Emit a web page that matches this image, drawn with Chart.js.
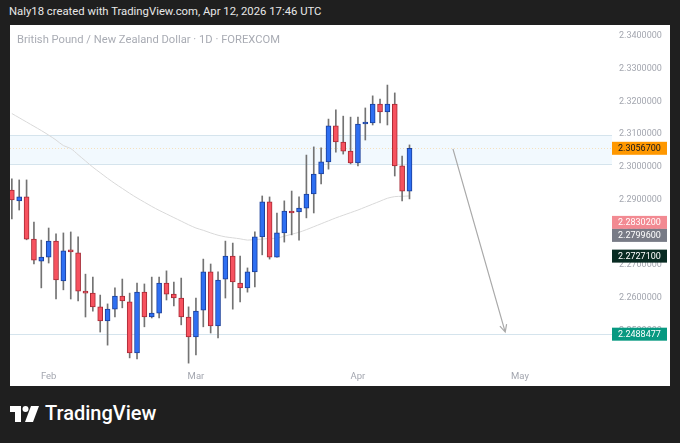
<!DOCTYPE html>
<html>
<head>
<meta charset="utf-8">
<script src="https://cdn.jsdelivr.net/npm/chart.js@4.4.1/dist/chart.umd.min.js"></script>
<style>
  html, body { margin: 0; padding: 0; width: 680px; height: 443px; overflow: hidden; background: #1f1f1f; font-family: Roboto, "Liberation Sans", sans-serif; }
  #header { position: absolute; left: 9px; top: 5px; color: #e8e8e8; font-size: 11.3px; white-space: nowrap; }
  #panel { position: absolute; left: 10px; top: 25px; width: 660px; height: 361px; background: #fff; }
  #chart { position: absolute; left: 0; top: 0; }
  #symbol { position: absolute; left: 7px; top: 8px; color: #a9acb4; font-size: 11.2px; white-space: nowrap; }
  #logo { position: absolute; left: 10px; top: 402px; height: 24px; color: #fff; }
  #logo svg { position: absolute; left: 0; top: 4px; }
  #logo span { position: absolute; left: 35px; top: -1px; font-size: 20px; font-weight: 500; white-space: nowrap; }
</style>
</head>
<body>
<div id="header">Naly18 created with TradingView.com, Apr 12, 2026 17:46 UTC</div>
<div id="panel">
  <canvas id="chart" width="660" height="361"></canvas>
  <div id="symbol">British Pound / New Zealand Dollar · 1D · FOREXCOM</div>
</div>
<div id="logo">
  <svg width="30" height="16" viewBox="0 0 30 16">
    <path d="M0 0 H11 V16 H5 V6 H0 Z" fill="#fff"/>
    <circle cx="15.5" cy="3" r="3" fill="#fff"/>
    <path d="M21 0 H29 L23 16 H15 Z" fill="#fff"/>
  </svg>
  <span>TradingView</span>
</div>
<script>
// GBP/NZD daily candles, Jan 26 - Apr 10
const opens = [2.2929, 2.2896, 2.2908, 2.2779, 2.2712, 2.2724, 2.2773, 2.2651, 2.2746, 2.2737,
  2.2620, 2.2614, 2.2572, 2.2529, 2.2565, 2.2605, 2.2587, 2.2431, 2.2617, 2.2541,
  2.2553, 2.2645, 2.2611, 2.2599, 2.2541, 2.2480, 2.2562, 2.2679, 2.2514, 2.2657,
  2.2727, 2.2645, 2.2630, 2.2679, 2.2786, 2.2893, 2.2724, 2.2798, 2.2865, 2.2862,
  2.2874, 2.2917, 2.2978, 2.3015, 2.3125, 2.3076, 2.3048, 2.3012, 2.3131, 2.3134,
  2.3192, 2.3168, 2.3192, 2.3003, 2.2926];
const highs = [2.2963, 2.2960, 2.2960, 2.2831, 2.2776, 2.2813, 2.2795, 2.2798, 2.2801, 2.2786,
  2.2672, 2.2663, 2.2608, 2.2581, 2.2630, 2.2657, 2.2614, 2.2645, 2.2642, 2.2663,
  2.2663, 2.2682, 2.2648, 2.2660, 2.2572, 2.2599, 2.2718, 2.2703, 2.2679, 2.2773,
  2.2767, 2.2727, 2.2691, 2.2801, 2.2911, 2.2908, 2.2859, 2.2896, 2.2926, 2.2908,
  2.3036, 2.3061, 2.3058, 2.3146, 2.3174, 2.3155, 2.3152, 2.3152, 2.3180, 2.3217,
  2.3207, 2.3250, 2.3226, 2.3033, 2.3067];
const lows = [2.2841, 2.2868, 2.2777, 2.2703, 2.2630, 2.2706, 2.2596, 2.2624, 2.2596, 2.2590,
  2.2541, 2.2559, 2.2495, 2.2455, 2.2541, 2.2569, 2.2416, 2.2413, 2.2511, 2.2538,
  2.2538, 2.2593, 2.2575, 2.2517, 2.2400, 2.2425, 2.2511, 2.2492, 2.2477, 2.2599,
  2.2565, 2.2587, 2.2617, 2.2633, 2.2731, 2.2718, 2.2724, 2.2770, 2.2792, 2.2776,
  2.2844, 2.2859, 2.2948, 2.2993, 2.3045, 2.3039, 2.3009, 2.3003, 2.3082, 2.3128,
  2.3134, 2.3128, 2.2972, 2.2896, 2.2902];
const closes = [2.2899, 2.2908, 2.2779, 2.2715, 2.2724, 2.2773, 2.2654, 2.2743, 2.2740, 2.2620,
  2.2614, 2.2572, 2.2529, 2.2565, 2.2605, 2.2590, 2.2431, 2.2617, 2.2541, 2.2553,
  2.2645, 2.2611, 2.2599, 2.2541, 2.2480, 2.2559, 2.2679, 2.2514, 2.2654, 2.2727,
  2.2648, 2.2630, 2.2679, 2.2786, 2.2893, 2.2724, 2.2798, 2.2865, 2.2859, 2.2874,
  2.2917, 2.2978, 2.3015, 2.3125, 2.3076, 2.3048, 2.3012, 2.3131, 2.3134, 2.3192,
  2.3168, 2.3192, 2.3003, 2.2926, 2.30567];
const movingAvg = [2.3163, 2.3150, 2.3137, 2.3124, 2.3111, 2.3097, 2.3082, 2.3065, 2.3056, 2.3037,
  2.3018, 2.2999, 2.2982, 2.2965, 2.2949, 2.2934, 2.2919, 2.2905, 2.2892, 2.2879,
  2.2867, 2.2856, 2.2845, 2.2834, 2.2823, 2.2813, 2.2806, 2.2798, 2.2791, 2.2786,
  2.2783, 2.2780, 2.2776, 2.2778, 2.2779, 2.2781, 2.2782, 2.2788, 2.2794, 2.2800,
  2.2808, 2.2817, 2.2826, 2.2835, 2.2844, 2.2852, 2.2860, 2.2868, 2.2877, 2.2886,
  2.2895, 2.2904, 2.2909, 2.2910, 2.2911];

// first bar of each month (bar number) and its label
const monthBars = [6, 26, 48, 70];
const monthNames = ['Feb', 'Mar', 'Apr', 'May'];

const priceTicks = [2.25, 2.26, 2.27, 2.28, 2.29, 2.30, 2.31, 2.32, 2.33, 2.34];
const tagValues = [2.30567, 2.28302, 2.27996, 2.27271, 2.2488477];
const tagColors = ['#ff9800', '#f28a92', '#787b86', '#082b22', '#089981'];
const tagText = ['#131722', '#fff', '#fff', '#fff', '#fff'];

const zoneTop = 2.3097, zoneBottom = 2.3009;
const targetLevel = 2.2488477;
const arrowStart = { bar: 60.9, price: 2.3055 };
const arrowEnd = { bar: 68, price: 2.2495 };

const UP = '#2e6ff2', UP_EDGE = '#1b3f9a';
const DOWN = '#f7525f', DOWN_EDGE = '#a82a35';
const isUp = i => closes[i] >= opens[i];

const overlays = {
  id: 'overlays',
  beforeDatasetsDraw(chart) {
    const { ctx, chartArea: a, scales: { y } } = chart;
    ctx.save();
    const t = y.getPixelForValue(zoneTop), b = y.getPixelForValue(zoneBottom);
    ctx.fillStyle = 'rgba(33,150,243,0.06)';
    ctx.fillRect(a.left, t, a.right - a.left, b - t);
    ctx.strokeStyle = '#d5e4ed';
    ctx.lineWidth = 1;
    ctx.beginPath();
    ctx.moveTo(a.left, Math.round(t) + 0.5); ctx.lineTo(a.right, Math.round(t) + 0.5);
    ctx.moveTo(a.left, Math.round(b) + 0.5); ctx.lineTo(a.right, Math.round(b) + 0.5);
    const h = Math.round(y.getPixelForValue(targetLevel)) + 0.5;
    ctx.moveTo(a.left, h); ctx.lineTo(a.right, h);
    ctx.stroke();
    // last price line
    const lp = Math.round(y.getPixelForValue(closes[closes.length - 1])) + 0.5;
    ctx.strokeStyle = 'rgba(255,152,0,0.25)';
    ctx.setLineDash([1, 2]);
    ctx.beginPath();
    ctx.moveTo(a.left, lp); ctx.lineTo(a.right, lp);
    ctx.stroke();
    ctx.restore();
  },
  afterDatasetsDraw(chart) {
    const { ctx, scales: { x, y } } = chart;
    const x1 = x.getPixelForValue(arrowStart.bar), y1 = y.getPixelForValue(arrowStart.price);
    const x2 = x.getPixelForValue(arrowEnd.bar), y2 = y.getPixelForValue(arrowEnd.price);
    const ang = Math.atan2(y2 - y1, x2 - x1);
    ctx.save();
    ctx.strokeStyle = '#a9a9a9';
    ctx.lineWidth = 1.2;
    ctx.beginPath();
    ctx.moveTo(x1, y1); ctx.lineTo(x2, y2);
    ctx.moveTo(x2 - 8 * Math.cos(ang - 0.45), y2 - 8 * Math.sin(ang - 0.45));
    ctx.lineTo(x2, y2);
    ctx.lineTo(x2 - 8 * Math.cos(ang + 0.45), y2 - 8 * Math.sin(ang + 0.45));
    ctx.stroke();
    ctx.restore();
  },
  afterDraw(chart) {
    const { ctx, chartArea: a, scales: { y } } = chart;
    const hgt = 13;
    const tags = tagValues.map((v, i) => ({ v, i, py: y.getPixelForValue(v) }))
      .sort((p, q) => p.py - q.py);
    let prevBottom = -Infinity;
    ctx.save();
    ctx.font = '9px Roboto';
    ctx.textBaseline = 'middle';
    tags.forEach(tag => {
      let top = tag.py - hgt / 2;
      if (top < prevBottom) top = prevBottom;
      prevBottom = top + hgt;
      ctx.fillStyle = tagColors[tag.i];
      ctx.fillRect(a.right, top, 55, hgt);
      ctx.fillStyle = tagText[tag.i];
      ctx.fillText(tag.v.toFixed(7), a.right + 6, top + hgt / 2 + 0.5);
    });
    ctx.restore();
  }
};

const noPad = s => { s.paddingTop = 0; s.paddingBottom = 0; s.paddingLeft = 0; s.paddingRight = 0; };

new Chart(document.getElementById('chart'), {
  type: 'bar',
  data: {
    datasets: [
      {
        label: 'body',
        data: closes.map((c, i) => ({ x: i + 1, y: [opens[i], c] })),
        backgroundColor: ctx => isUp(ctx.dataIndex) ? UP : DOWN,
        borderColor: ctx => isUp(ctx.dataIndex) ? UP_EDGE : DOWN_EDGE,
        borderWidth: 1,
        borderSkipped: false,
        barThickness: 5,
        minBarLength: 2,
        grouped: false
      },
      {
        label: 'wick',
        data: highs.map((hv, i) => ({ x: i + 1, y: [lows[i], hv] })),
        backgroundColor: '#737373',
        barThickness: 1,
        grouped: false
      },
      {
        type: 'line',
        label: 'MA',
        data: movingAvg.map((m, i) => ({ x: i + 1, y: m })),
        borderColor: '#d9d9d9',
        borderWidth: 1,
        pointRadius: 0,
        tension: 0.3
      }
    ]
  },
  options: {
    responsive: false,
    animation: false,
    layout: { padding: 0 },
    plugins: { legend: { display: false }, tooltip: { enabled: false } },
    scales: {
      x: {
        type: 'linear',
        min: 0.75,
        max: 82.5,
        offset: false,
        afterFit: s => { s.height = 18; noPad(s); },
        afterBuildTicks: s => { s.ticks = monthBars.map(v => ({ value: v })); },
        grid: { display: false, drawTicks: false },
        border: { display: false },
        ticks: {
          autoSkip: false, maxRotation: 0, padding: 3,
          color: '#a3a6af', font: { size: 9.5, family: 'Roboto' },
          callback: (v, i) => monthNames[i]
        }
      },
      y: {
        position: 'right',
        min: 2.23851,
        max: 2.34336,
        afterFit: s => { s.width = 58; noPad(s); },
        afterBuildTicks: s => { s.ticks = priceTicks.map(v => ({ value: v })); },
        grid: { display: false, drawTicks: false },
        border: { display: false },
        ticks: {
          autoSkip: false, padding: 7,
          color: '#a3a6af', font: { size: 9, family: 'Roboto' },
          callback: v => v.toFixed(7)
        }
      }
    }
  },
  plugins: [overlays]
});
</script>
</body>
</html>
